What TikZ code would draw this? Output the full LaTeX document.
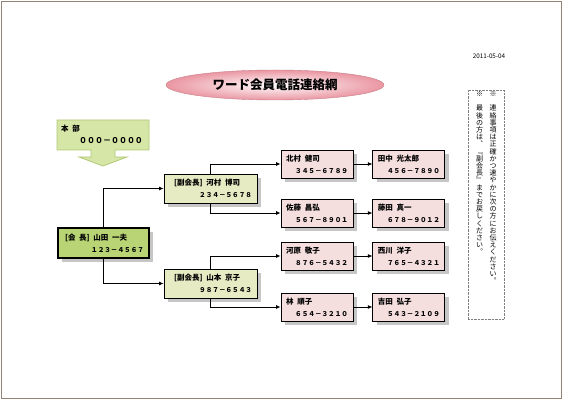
\documentclass[tikz,border=0pt]{standalone}
\usepackage{fontspec}
\newfontfamily\jp{Noto Sans CJK JP}
\usetikzlibrary{arrows.meta,positioning,shapes.geometric,shadows}

\definecolor{memberfill}{RGB}{244,222,222}
\definecolor{vicefill}{RGB}{230,235,196}
\definecolor{chairfill}{RGB}{184,212,116}
\definecolor{hqfill}{RGB}{214,230,166}
\definecolor{hqline}{RGB}{176,200,118}
\definecolor{titlefill}{RGB}{234,150,162}
\definecolor{pageline}{RGB}{150,130,115}

\newcommand\hsp{\hspace{.5em}}
\newcommand\person[2]{#1\\\hspace*{\fill}{\fontsize{6.6}{12}\selectfont#2}}
% vertical (tate) text: one character per line
\def\tatestep#1{\ifx\relax#1\else\hbox to 1em{\hss#1\hss}\expandafter\tatestep\fi}
\newcommand\tate[1]{\vbox{\baselineskip=1.03em\lineskiplimit=-\maxdimen\tatestep#1\relax}}

\begin{document}
\begin{tikzpicture}[x=1pt,y=-1pt,
  >={Latex[length=4.5pt,width=4pt]},
  node distance=19pt,
  card/.style={draw,line width=0.9pt,inner xsep=5pt,inner ysep=0pt,align=left,
    font=\jp\bfseries\fontsize{7.5}{12}\selectfont,
    drop shadow={shadow xshift=4pt,shadow yshift=-4pt,fill=gray!45,opacity=1}},
  member/.style={card,fill=memberfill,minimum width=72pt,minimum height=28pt,text width=62pt},
  vice/.style={card,fill=vicefill,minimum width=93pt,minimum height=29pt,text width=83pt},
  chair/.style={card,fill=chairfill,line width=1.2pt,minimum width=91pt,minimum height=30pt,text width=81pt},
  link/.style={->,line width=0.8pt},
  small/.style={inner sep=0pt,font=\jp\fontsize{7}{8}\selectfont}
]
  \useasboundingbox (0,0) rectangle (566,403);
  \draw[pageline,line width=1pt] (1,2) rectangle (561,399);

  % title and date
  \node[ellipse,minimum width=218pt,minimum height=30pt,draw=titlefill!85!black,
    shading=radial,inner color=white,outer color=titlefill,
    font=\jp\bfseries\fontsize{12.5}{14}\selectfont] (title) at (275,85) {ワード会員電話連絡網};
  \node[small,font=\jp\fontsize{6.3}{8}\selectfont] (date) at (489,56) {2011-05-04};

  % head office callout
  \draw[hqline,fill=hqfill,line width=0.8pt] (57,120) -- (149,120) -- (149,150) -- (115,150)
    -- (115,157) -- (127,157) -- (103,166) -- (79,157) -- (91,157) -- (91,150) -- (57,150) -- cycle;
  \node[small,anchor=west,font=\jp\bfseries\fontsize{7.5}{8}\selectfont] (hq) at (61,129) {本\hsp 部};
  \node[small,font=\jp\bfseries\fontsize{8}{8}\selectfont] (hqnum) at (111,141) {０００－００００};

  % chair and vice chairs
  \node[chair] (chair) at (103.5,243) {\person{\hspace*{2pt}[会\hsp 長]\hsp 山田\hsp 一夫}{１２３－４５６７}};
  \node[vice] (vice1) at (210.5,188.5) {\person{\hspace*{5pt}[副会長]\hsp 河村\hsp 博司}{２３４－５６７８}};
  \node[vice] (vice2) at (210.5,283.5) {\person{\hspace*{5pt}[副会長]\hsp 山本\hsp 京子}{９８７－６５４３}};

  % members
  \node[member] (kitamura) at (317,164) {\person{北村\hsp 健司}{３４５－６７８９}};
  \node[member] (sato) at (317,213) {\person{佐藤\hsp 昌弘}{５６７－８９０１}};
  \node[member] (kawahara) at (317,256) {\person{河原\hsp 敬子}{８７６－５４３２}};
  \node[member] (hayashi) at (317,307) {\person{林\hsp 順子}{６５４－３２１０}};
  \node[member,right=of kitamura] (tanaka) {\person{田中\hsp 光太郎}{４５６－７８９０}};
  \node[member,right=of sato] (fujita) {\person{藤田\hsp 真一}{６７８－９０１２}};
  \node[member,right=of kawahara] (nishikawa) {\person{西川\hsp 洋子}{７６５－４３２１}};
  \node[member,right=of hayashi] (yoshida) {\person{吉田\hsp 弘子}{５４３－２１０９}};

  \draw[link] (chair.north) |- (vice1);
  \draw[link] (chair.south) |- (vice2);
  \draw[link] (vice1.north) |- (kitamura);
  \draw[link] (vice1.south) |- (sato);
  \draw[link] (vice2.north) |- (kawahara);
  \draw[link] (vice2.south) |- (hayashi);
  \draw[link] (kitamura) -- (tanaka);
  \draw[link] (sato) -- (fujita);
  \draw[link] (kawahara) -- (nishikawa);
  \draw[link] (hayashi) -- (yoshida);

  % note
  \node[draw=gray,densely dotted,minimum width=36pt,minimum height=229pt] (note) at (486,204.5) {};
  \node[small,anchor=north] (notea) at (493,91) {\tate{※　連絡事項は正確かつ速やかに次の方にお伝えください︒}};
  \node[small,anchor=north] (noteb) at (479.5,91) {\tate{※　最後の方は︑﹃副会長﹄までお戻しください︒}};
\end{tikzpicture}
\end{document}
